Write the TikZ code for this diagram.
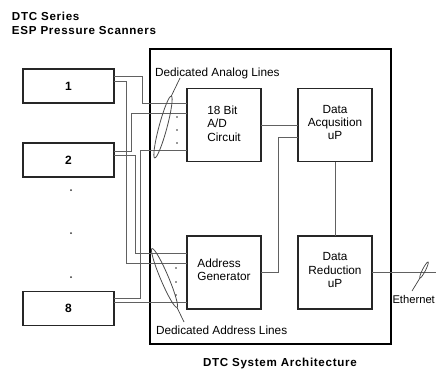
\documentclass[tikz,border=0pt]{standalone}
\usepackage{fontspec}
\setmainfont{Liberation Sans}
\usetikzlibrary{shapes.geometric,calc}
\begin{document}
\begin{tikzpicture}[x=1pt,y=-1pt,
  every node/.style={inner sep=0pt, outer sep=0pt},
  txt/.style={font=\fontsize{11.8}{13.4}\selectfont},
  btxt/.style={font=\fontsize{11.6}{13}\selectfont\bfseries\addfontfeature{LetterSpace=6}},
  scanner/.style={draw=black!85, line width=1.3pt, minimum width=91pt, minimum height=34pt, font=\fontsize{12}{14}\selectfont\bfseries},
  blockbox/.style={draw=black!85, line width=1.3pt, minimum width=74pt, minimum height=73pt},
  wire/.style={draw=black!62, line width=0.8pt},
  lens/.style={ellipse, draw=black!70, line width=0.8pt, minimum width=64pt, minimum height=8pt},
  leader/.style={draw=black!75, line width=0.7pt},
  dotm/.style={circle, fill=black!80, minimum size=2pt}
]
\useasboundingbox (0,0) rectangle (436,370);

% titles
\node[btxt, anchor=base west] (t1) at (12,20) {DTC Series};
\node[btxt, anchor=base west] (t2) at (12,34) {ESP Pressure Scanners};
\node[btxt, anchor=base west] (t3) at (203,366) {DTC System Architecture};

% system frame
\node[draw, line width=2.4pt, minimum width=241pt, minimum height=295pt] (sys) at (270.5,196.5) {};

% scanners
\node[scanner] (s1) at (68.5,86) {1};
\node[scanner] (s2) at (68.5,160) {2};
\node[scanner] (s8) at (68.5,308.5) {8};
\foreach \y [count=\i] in {190,233,277} \node[dotm] (sd\i) at (71,\y) {};

% blocks
\node[blockbox] (ad) at (224,125) {};
\node[blockbox] (acq) at (335,125) {};
\node[blockbox] (gen) at (224,272.5) {};
\node[blockbox] (red) at (335,272.5) {};
\node[txt, align=left] (adt) at ($(ad.center)+(0,-1.5)$) {18 Bit\\A/D\\Circuit};
\node[txt, align=center] (acqt) at ($(acq.center)+(0,-2.5)$) {Data\\Acqusition\\uP};
\node[txt, align=left] (gent) at ($(gen.center)+(0,-2.5)$) {Address\\Generator};
\node[txt, align=center] (redt) at ($(red.center)+(0,-2.5)$) {Data\\Reduction\\uP};

% internal connections
\draw[wire] (ad.east) -- (acq.west);
\coordinate (jx) at (278,0);
\coordinate (acqin) at ($(acq.north west)+(0,49)$);
\draw[wire] (gen.east) -- (gen.east -| jx) |- (acqin);
\draw[wire] (acq.south) -- (red.north);
\coordinate (eth) at (436,272.5);
\draw[wire] (red.east) -- (eth);

% wire ends
\coordinate (s1a) at ($(s1.north east)+(0,7)$);
\coordinate (s1d) at ($(s1.north east)+(0,12)$);
\coordinate (s2a) at ($(s2.north east)+(0,8)$);
\coordinate (s2d) at ($(s2.north east)+(0,12)$);
\coordinate (s8a) at ($(s8.north east)+(0,6.5)$);
\coordinate (s8d) at ($(s8.north east)+(0,10.5)$);
\coordinate (ad1) at ($(ad.north west)+(0,14.5)$);
\coordinate (ad2) at ($(ad.north west)+(0,24.5)$);
\coordinate (ad3) at ($(ad.north west)+(0,61.5)$);
\coordinate (gen1) at ($(gen.north west)+(0,17)$);
\coordinate (gen2) at ($(gen.north west)+(0,27)$);
\coordinate (c1) at (142,0);
\coordinate (c2) at (126,0);
\coordinate (c3) at (131,0);
\coordinate (c4) at (135,0);
\coordinate (c5) at (140,0);

% analog lines
\draw[wire] (s1a) -- (s1a -| c1) |- (ad1);
\draw[wire] (s2a) -- (s2a -| c3) |- (ad2);
\draw[wire] (s8a) -- (s8a -| c5) |- (ad3);
% address lines
\draw[wire] (s1d) -- (s1d -| c2) |- (gen2);
\draw[wire] (s2d) -- (s2d -| c4) |- (gen1);
\draw[wire] (s8d) -- (s8d -| gen.west);

% bundles
\node[lens, rotate=75] (la) at (163,127) {};
\node[lens, rotate=-67] (lb) at (164.5,278) {};
\foreach \y [count=\i] in {117,130,143} \node[dotm, minimum size=1.8pt] (da\i) at (177,\y) {};
\foreach \y [count=\i] in {268,282,295} \node[dotm, minimum size=1.8pt] (db\i) at (176,\y) {};

\node[txt, anchor=west] (ta) at (155,73) {Dedicated Analog Lines};
\node[txt, anchor=west] (tb) at (156,330) {Dedicated Address Lines};
\coordinate (laend) at (180,78);
\coordinate (lbend) at (184,322);
\draw[leader] (la.east) -- (laend);
\draw[leader] (lb.east) -- (lbend);

% ethernet
\node[ellipse, draw=black!75, line width=0.7pt, rotate=63, minimum width=18pt, minimum height=3pt] (le) at (424,270) {};
\node[font=\fontsize{11.2}{13}\selectfont, anchor=west] (te) at (392.5,299) {Ethernet};
\coordinate (leend) at (412,291);
\draw[leader] (le.west) -- (leend);
\end{tikzpicture}
\end{document}
